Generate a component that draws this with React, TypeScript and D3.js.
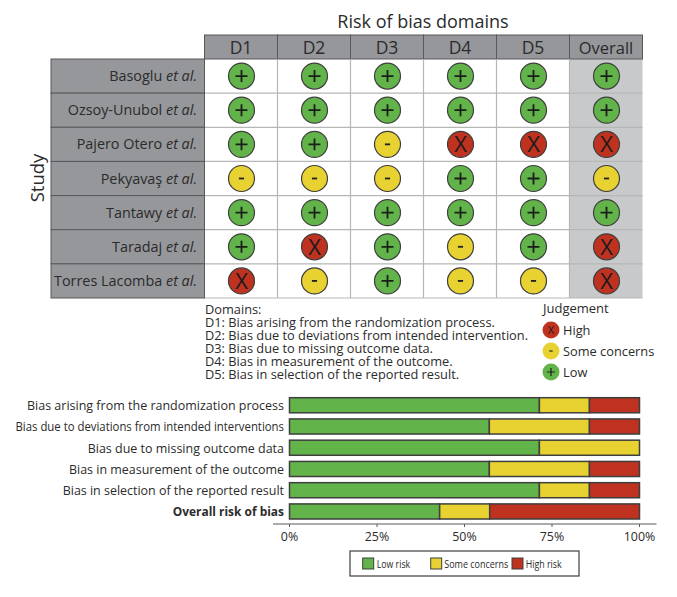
import React from "react";
import * as d3 from "d3";

const studies = ["Basoglu", "Ozsoy-Unubol", "Pajero Otero", "Pekyavaş", "Tantawy", "Taradaj", "Torres Lacomba"];
const domains = ["D1", "D2", "D3", "D4", "D5", "Overall"];
const judgementsBasoglu = ["+", "+", "+", "+", "+", "+"];
const judgementsOzsoy = ["+", "+", "+", "+", "+", "+"];
const judgementsPajero = ["+", "+", "-", "X", "X", "X"];
const judgementsPekyavas = ["-", "-", "-", "+", "+", "-"];
const judgementsTantawy = ["+", "+", "+", "+", "+", "+"];
const judgementsTaradaj = ["+", "X", "+", "-", "+", "X"];
const judgementsTorres = ["X", "-", "+", "-", "-", "X"];
const judgements = [judgementsBasoglu, judgementsOzsoy, judgementsPajero, judgementsPekyavas, judgementsTantawy, judgementsTaradaj, judgementsTorres];

const domainNotes = [
  "Domains:",
  "D1: Bias arising from the randomization process.",
  "D2: Bias due to deviations from intended intervention.",
  "D3: Bias due to missing outcome data.",
  "D4: Bias in measurement of the outcome.",
  "D5: Bias in selection of the reported result.",
];
const judgementLegend = [
  { symbol: "X", label: "High" },
  { symbol: "-", label: "Some concerns" },
  { symbol: "+", label: "Low" },
];

const barLabels = [
  "Bias arising from the randomization process",
  "Bias due to deviations from intended interventions",
  "Bias due to missing outcome data",
  "Bias in measurement of the outcome",
  "Bias in selection of the reported result",
  "Overall risk of bias",
];
const barLabelWidths = [257, 268.5, 196.3, 215, 221.3, 111.3];
const lowRisk = [71.4, 57.1, 71.4, 57.1, 71.4, 42.9];
const someConcerns = [14.3, 28.6, 28.6, 28.6, 14.3, 14.3];
const highRisk = [14.3, 14.3, 0, 14.3, 14.3, 42.8];
const axisTicks = [0, 25, 50, 75, 100];
const barLegend = [
  { key: "low", label: "Low risk" },
  { key: "some", label: "Some concerns" },
  { key: "high", label: "High risk" },
];
const barLegendBoxes = [362.7, 430.7, 512];
const barLegendTextX = [376.7, 444.3, 525.7];
const barLegendTextW = [33.5, 64, 36];

const GREEN = "#62b44a";
const YELLOW = "#e8d232";
const RED = "#bf3220";
const HEAD = "#96979b";
const LINE = "#58595b";
const TEXT = "#2b2b2b";
const FONT = "'Open Sans', sans-serif";

const fillOf: Record<string, string> = { "+": GREEN, "-": YELLOW, X: RED };

const xCol = d3.scaleBand<string>().domain(domains).range([204.5, 642.5]);
const yRow = d3.scaleBand<string>().domain(studies).range([59, 298]);
const xPct = d3.scaleLinear().domain([0, 100]).range([289.5, 639.5]);
const yBar = d3.scaleBand<string>().domain(barLabels).range([397.7, 519]).paddingInner(0.29).paddingOuter(0);

function Symbol({ cx, cy, s, r = 13, fs = 22, stroke = true }: any) {
  const arm = r * 0.46;
  return (
    <g>
      <circle cx={cx} cy={cy} r={r} fill={fillOf[s]} stroke={stroke ? "#3e3f3e" : "none"} strokeWidth={1.2} />
      {s === "+" && (
        <path d={`M${cx - arm},${cy}H${cx + arm}M${cx},${cy - arm}V${cy + arm}`} stroke="#1b1f1b" strokeWidth={r * 0.14} fill="none" />
      )}
      {s === "-" && <path d={`M${cx - r * 0.2},${cy}H${cx + r * 0.2}`} stroke="#222" strokeWidth={r * 0.14} fill="none" />}
      {s === "X" && (
        <text x={cx} y={cy + fs * 0.36} textAnchor="middle" fontSize={fs} fontFamily={FONT} fill="#1b1b1b">
          X
        </text>
      )}
    </g>
  );
}

export default function App() {
  const bw = xCol.bandwidth();
  const rh = yRow.bandwidth();
  return (
    <svg width={677} height={597} style={{ position: "absolute", left: 0, top: 0, background: "#fff" }} fontFamily={FONT}>
      <text x={423} y={28} textAnchor="middle" fontSize={18} fill={TEXT}>Risk of bias domains</text>
      <text transform="translate(44,178) rotate(-90)" textAnchor="middle" fontSize={18.5} fill={TEXT}>Study</text>

      {/* overall column shade */}
      <rect x={xCol("Overall")} y={59} width={bw} height={239} fill="#c8c9cb" />

      {/* header cells */}
      {domains.map((d) => (
        <g key={d}>
          <rect x={xCol(d)} y={35} width={bw} height={24} fill={HEAD} stroke={LINE} strokeWidth={1} />
          <text x={xCol(d)! + bw / 2} y={53.5} textAnchor="middle" fontSize={d === "Overall" ? 16.5 : 17.5} fill={TEXT}>{d}</text>
        </g>
      ))}

      {/* grid inside matrix */}
      {studies.map((s) => (
        <line key={s} x1={204.5} x2={642.5} y1={yRow(s)! + rh} y2={yRow(s)! + rh} stroke="#b5b7b5" strokeWidth={1.2} />
      ))}
      {domains.slice(1).map((d) => (
        <line key={d} x1={xCol(d)} x2={xCol(d)} y1={59} y2={298} stroke="#b5b7b5" strokeWidth={1.2} />
      ))}

      {/* study labels */}
      {studies.map((s) => (
        <g key={s}>
          <rect x={51} y={yRow(s)} width={153.5} height={rh} fill={HEAD} stroke={LINE} strokeWidth={1} />
          <text x={197} y={yRow(s)! + rh / 2 + 5} textAnchor="end" fontSize={14.4} fill={TEXT}>
            {s} <tspan fontStyle="italic">et al.</tspan>
          </text>
        </g>
      ))}

      {/* symbols */}
      {studies.map((s, i) =>
        domains.map((d, j) => (
          <Symbol key={s + d} cx={xCol(d)! + bw / 2 + 0.5} cy={yRow(s)! + rh / 2} s={judgements[i][j]} />
        ))
      )}

      {/* domain notes */}
      {domainNotes.map((t, i) => (
        <text key={t} x={205} y={313.5 + i * 13} fontSize={12.8} fill={TEXT}>{t}</text>
      ))}

      {/* judgement legend */}
      <text x={543} y={313} fontSize={13} fill={TEXT}>Judgement</text>
      {judgementLegend.map((l, i) => (
        <g key={l.label}>
          <Symbol cx={551} cy={330 + i * 21} s={l.symbol} r={8.5} fs={11} stroke={false} />
          <text x={563} y={334.5 + i * 21} fontSize={12.8} fill={TEXT}>{l.label}</text>
        </g>
      ))}

      {/* stacked bars */}
      {barLabels.map((b, i) => {
        const y = yBar(b)!;
        const h = yBar.bandwidth();
        const a = lowRisk[i];
        const c = a + someConcerns[i];
        const e = c + highRisk[i];
        return (
          <g key={b}>
            <text x={284} y={y + h / 2 + 4.8} textAnchor="end" fontSize={13} fontWeight={i === 5 ? 700 : 400} fill={TEXT} textLength={barLabelWidths[i]} lengthAdjust="spacingAndGlyphs">{b}</text>
            <rect x={xPct(0)} y={y} width={xPct(a) - xPct(0)} height={h} fill={GREEN} stroke="#3e3f3e" strokeWidth={1.5} />
            <rect x={xPct(a)} y={y} width={xPct(c) - xPct(a)} height={h} fill={YELLOW} stroke="#3e3f3e" strokeWidth={1.5} />
            {highRisk[i] > 0 && <rect x={xPct(c)} y={y} width={xPct(e) - xPct(c)} height={h} fill={RED} stroke="#3e3f3e" strokeWidth={1.5} />}
          </g>
        );
      })}

      {/* axis */}
      <line x1={273} x2={656.5} y1={524} y2={524} stroke={LINE} strokeWidth={1.2} />
      {axisTicks.map((t) => (
        <g key={t}>
          <line x1={xPct(t)} x2={xPct(t)} y1={524} y2={527} stroke={LINE} strokeWidth={1} />
          <text x={xPct(t)} y={540.5} textAnchor="middle" fontSize={12.4} fill={TEXT}>{t}%</text>
        </g>
      ))}

      {/* bar legend */}
      <rect x={350} y={551} width={229} height={25} fill="#fff" stroke="#3e3f3e" strokeWidth={1.2} />
      {barLegend.map((l, i) => (
        <g key={l.key}>
          <rect x={barLegendBoxes[i]} y={558} width={11} height={11} fill={[GREEN, YELLOW, RED][i]} stroke="#3e3f3e" strokeWidth={1} />
          <text x={barLegendTextX[i]} y={568} fontSize={11.5} fill={TEXT} textLength={barLegendTextW[i]} lengthAdjust="spacingAndGlyphs">{l.label}</text>
        </g>
      ))}
    </svg>
  );
}
